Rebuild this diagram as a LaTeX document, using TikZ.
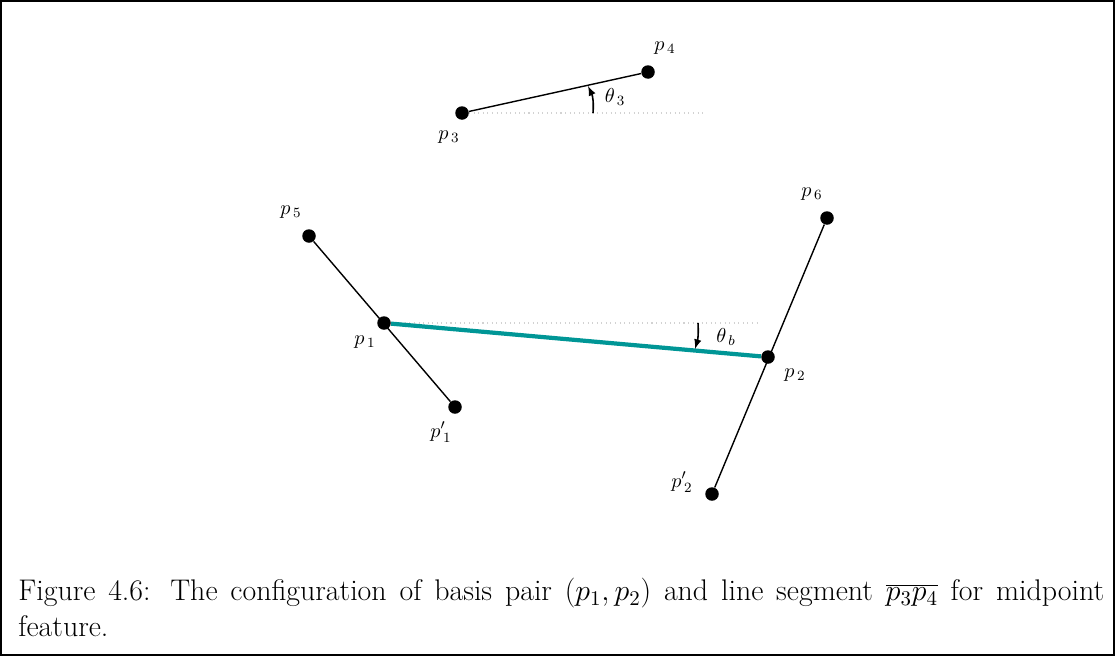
\RequirePackage{fix-cm}
\documentclass[tikz,border=0pt]{standalone}
\usepackage{tikz}
\usetikzlibrary{calc,arrows,positioning}
\usetikzlibrary{arrows.meta}
\definecolor{basisteal}{RGB}{0,150,150}

\begin{document}
\begin{tikzpicture}[>=latex,x=0.02cm,y=-0.02cm,font=\fontsize{11.5}{12}\selectfont,
    dot/.style={circle,fill=black,inner sep=0pt,minimum size=0.27cm},
    seg/.style={line width=0.8pt},
    basis/.style={line width=2.4pt,basisteal},
    hline/.style={gray!35,dotted,line width=0.6pt}]
    \useasboundingbox (0,0) rectangle (1115,656);
    \draw [line width=0.9pt] (1,1) rectangle (1114,655);
    % points
    \node [dot] (p3) at (462,113) {};
    \node [dot] (p4) at (648,72) {};
    \node [dot] (p5) at (309,236) {};
    \node [dot] (p1) at (384,323) {};
    \node [dot] (p1b) at (455,407) {};
    \node [dot] (p6) at (827,218) {};
    \node [dot] (p2) at (768,357) {};
    \node [dot] (p2b) at (712,494) {};
    \coordinate (h3) at (705,113);
    \coordinate (hb) at (760,323);
    % reference lines
    \draw [hline] (p3) -- (h3);
    \draw [hline] (p1) -- (hb);
    % segments
    \draw [seg] (p3) -- (p4);
    \draw [seg] (p5) -- (p1b);
    \draw [seg] (p6) -- (p2b);
    \draw [basis] (p1) -- (p2);
    % angles
    \coordinate (a3s) at (593,113);
    \coordinate (a3e) at (588,86);
    \coordinate (abs) at (698,323);
    \coordinate (abe) at (695,349);
    \draw [->,line width=0.9pt] (a3s) to[bend right=15] (a3e);
    \draw [->,line width=0.9pt] (abs) to[bend left=10] (abe);
    % labels
    \node (l3) at (449,137) {$p_{\,3}$};
    \node (l4) at (665,48) {$p_{\,4}$};
    \node (l5) at (291,212) {$p_{\,5}$};
    \node (l1) at (365,342) {$p_{\,1}$};
    \node (l1b) at (441,432) {$p_{\,1}'$};
    \node (l6) at (812,194) {$p_{\,6}$};
    \node (l2) at (795,375) {$p_{\,2}$};
    \node (l2b) at (682,482) {$p_{\,2}'$};
    \node (t3) at (615,97) {$\theta_{\,3}$};
    \node (tb) at (726,337) {$\theta_{\,b}$};
    % caption
    \node [anchor=north west,inner sep=0pt,text width=21.72cm,align=justify,
        font=\fontsize{17}{20.5}\selectfont] (cap) at (18,578)
        {Figure 4.6: The configuration of basis pair $(p_1,p_2)$ and line segment $\overline{p_3p_4}$ for midpoint\linebreak feature.};
\end{tikzpicture}
\end{document}
